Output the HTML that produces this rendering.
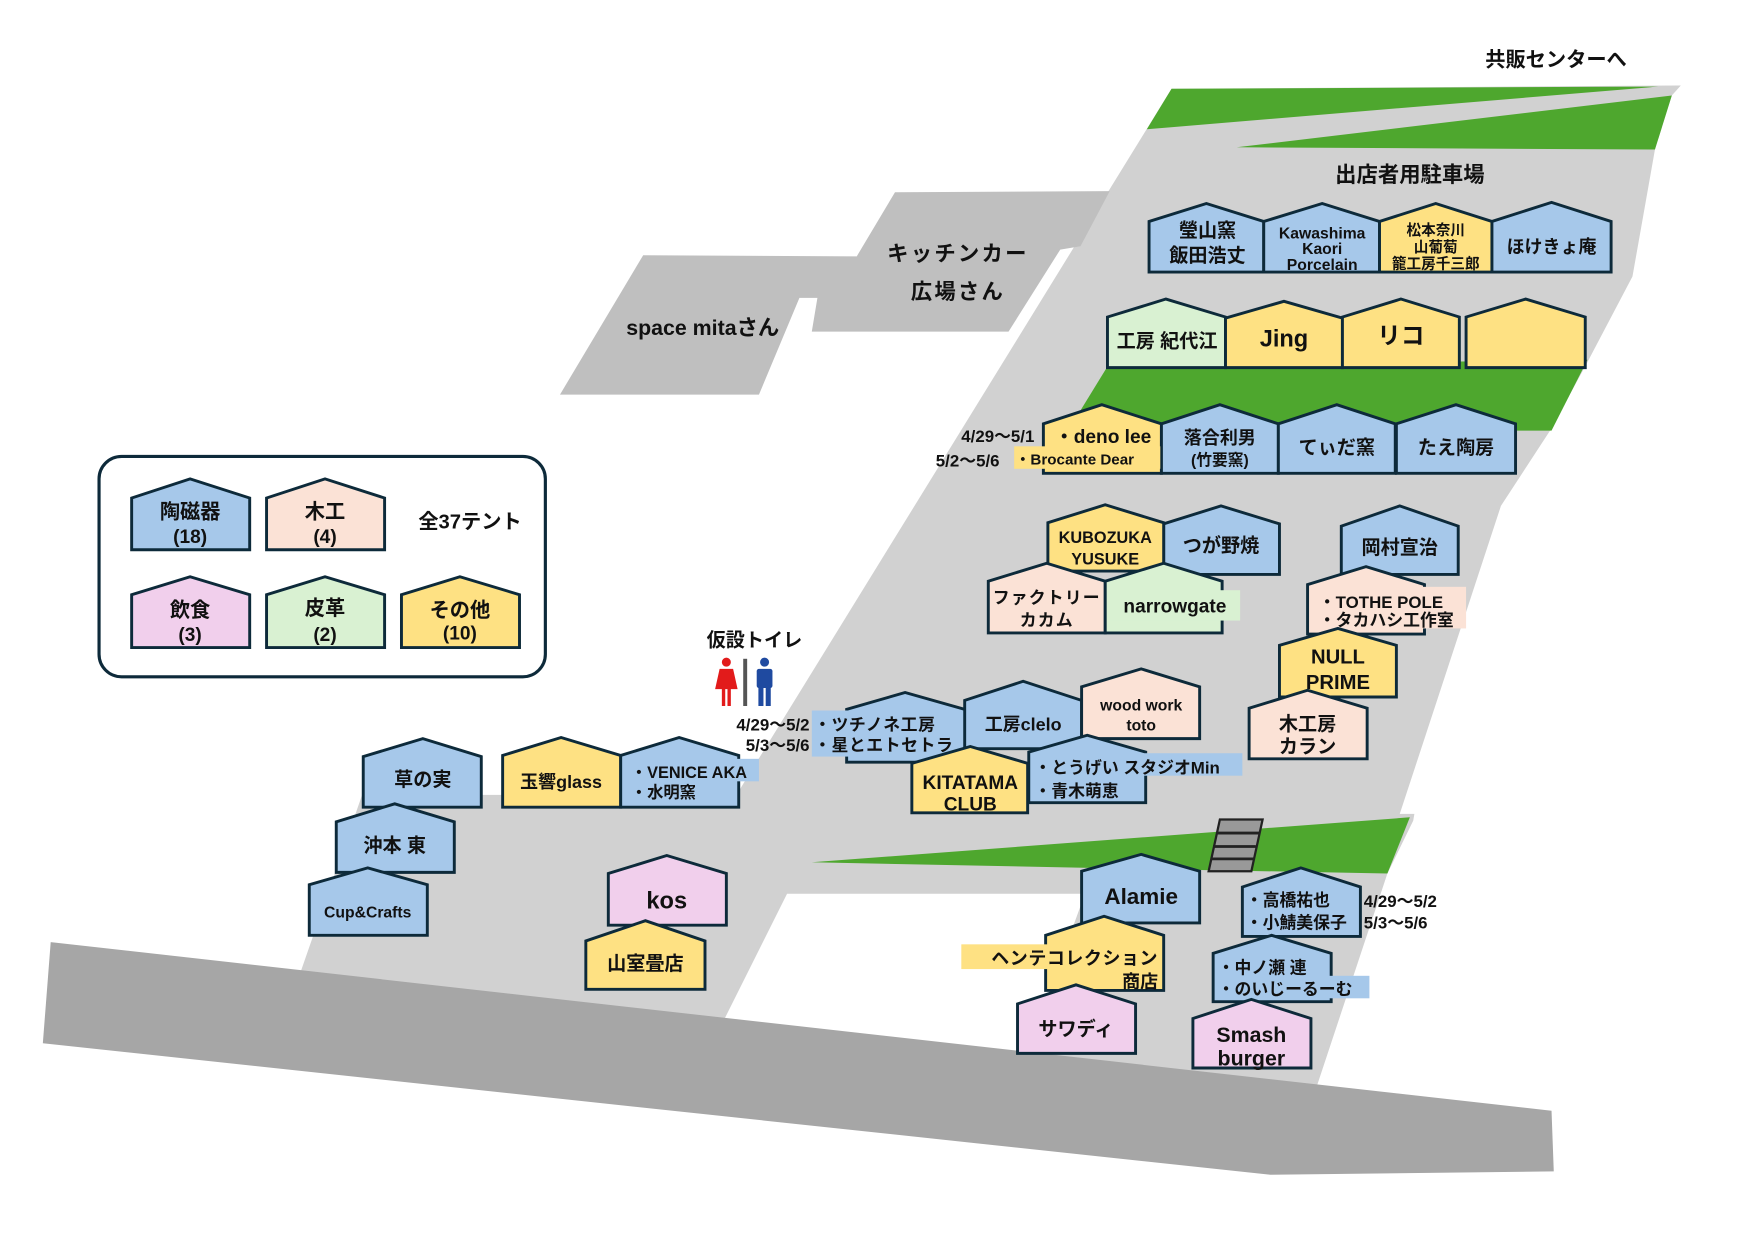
<!DOCTYPE html>
<html><head><meta charset="utf-8"><style>
html,body{margin:0;padding:0;background:#fff;}
svg{display:block}
text{font-family:"Liberation Sans","Noto Sans CJK JP",sans-serif;font-weight:bold;fill:#111;}
.t{stroke:#0d2a3a;stroke-width:2.6;stroke-linejoin:miter}
.b{fill:#a6c8ea}.y{fill:#fee183}.p{fill:#fbe2d6}.k{fill:#f1cfec}.g{fill:#d9f1d2}
</style></head><body>
<svg width="1754" height="1240" viewBox="0 0 1560 1103" xmlns="http://www.w3.org/2000/svg">
<rect width="1560" height="1103" fill="#fff"/>
<!-- ground -->
<polygon fill="#d1d1d1" points="1042,79 1495,76 1487,85 1472,133 1452,246 1412,322 1380,381 1335,450 1245,724 1258,724 1257,730 1234,777 1160,1000 255,900 322,707 655,707"/>
<polygon fill="#fff" points="700,795 965,795 905,960 640,915"/>
<polygon fill="#4ea72e" points="1042,79 1475,77 1020,115"/>
<polygon fill="#4ea72e" points="1100,131 1487,85 1472,133"/>
<polygon fill="#4ea72e" points="985,326 1412,320 1380,383 950,383"/>
<polygon fill="#4ea72e" points="722,767 1254,727 1234,777 969,772"/>
<polygon fill="#a6a6a6" points="45,838 1380,988 1382,1042 1130,1045 38,928"/>
<polygon fill="#bfbfbf" points="572,227 762,228 796,171 987,170 961,219 943,222 897,295 722,295 727,265 711,265 675,351 498,351"/>
<!-- stairs -->
<polygon fill="#999" stroke="#222" stroke-width="2" points="1085,729 1123,729 1113,775 1075,775"/>
<line x1="1082" y1="741" x2="1120" y2="741" stroke="#222" stroke-width="2.5"/>
<line x1="1079" y1="753" x2="1117" y2="753" stroke="#222" stroke-width="2.5"/>
<line x1="1077" y1="764" x2="1115" y2="764" stroke="#222" stroke-width="2.5"/>

<!-- area labels -->
<text x="1384" y="59" font-size="18" text-anchor="middle">共販センターへ</text>
<text x="1254" y="162" font-size="19" text-anchor="middle">出店者用駐車場</text>
<text x="852" y="232" font-size="19" text-anchor="middle" letter-spacing="2">キッチンカー</text>
<text x="852" y="266" font-size="19" text-anchor="middle" letter-spacing="2">広場さん</text>
<text x="625" y="298" font-size="19" text-anchor="middle">space mitaさん</text>

<!-- legend -->
<rect x="88" y="406" width="397" height="196" rx="20" fill="#fff" stroke="#0d2a3a" stroke-width="2.8"/>
<polygon class="t b" points="117,489 117,443 169,426 222,443 222,489"/>
<polygon class="t p" points="237,489 237,443 289,426 342,443 342,489"/>
<polygon class="t k" points="117,576 117,529 169,513 222,529 222,576"/>
<polygon class="t g" points="237,576 237,529 289,513 342,529 342,576"/>
<polygon class="t y" points="357,576 357,529 409,513 462,529 462,576"/>
<text x="169" y="461" font-size="18" text-anchor="middle">陶磁器</text><text x="169" y="483" font-size="17" text-anchor="middle">(18)</text>
<text x="289" y="461" font-size="18" text-anchor="middle">木工</text><text x="289" y="483" font-size="17" text-anchor="middle">(4)</text>
<text x="169" y="549" font-size="18" text-anchor="middle">飲食</text><text x="169" y="570" font-size="17" text-anchor="middle">(3)</text>
<text x="289" y="547" font-size="18" text-anchor="middle">皮革</text><text x="289" y="570" font-size="17" text-anchor="middle">(2)</text>
<text x="409" y="549" font-size="18" text-anchor="middle">その他</text><text x="409" y="569" font-size="17" text-anchor="middle">(10)</text>
<text x="418" y="470" font-size="18" text-anchor="middle">全37テント</text>

<!-- toilet -->
<text x="671" y="575" font-size="17" text-anchor="middle">仮設トイレ</text>
<g fill="#e21b1b"><circle cx="646" cy="589" r="4"/><polygon points="640,595 652,595 656,613 650,613 650,628 647,628 647,613 645,613 645,628 642,628 642,613 636,613"/></g>
<rect x="661" y="586" width="3.5" height="42" fill="#555"/>
<g fill="#1f4aa0"><circle cx="680" cy="589" r="4"/><rect x="673" y="595" width="14" height="17" rx="2"/><rect x="674.5" y="608" width="4.5" height="20"/><rect x="681" y="608" width="4.5" height="20"/></g>

<!-- row1 -->
<polygon class="t b" points="1022,242 1022,197 1073,181 1124,197 1124,242"/>
<polygon class="t b" points="1124,242 1124,197 1176,181 1227,197 1227,242"/>
<polygon class="t y" points="1227,242 1227,197 1277,181 1327,197 1327,242"/>
<polygon class="t b" points="1327,242 1327,197 1380,180 1433,197 1433,242"/>
<text x="1074" y="211" font-size="17" text-anchor="middle">瑩山窯</text><text x="1074" y="233" font-size="17" text-anchor="middle">飯田浩丈</text>
<text x="1176" y="212" font-size="14" text-anchor="middle">Kawashima</text><text x="1176" y="226" font-size="14" text-anchor="middle">Kaori</text><text x="1176" y="240" font-size="14" text-anchor="middle">Porcelain</text>
<text x="1277" y="209" font-size="13" text-anchor="middle">松本奈川</text><text x="1277" y="224" font-size="13" text-anchor="middle">山葡萄</text><text x="1277" y="239" font-size="13" text-anchor="middle">籠工房千三郎</text>
<text x="1380" y="225" font-size="16" text-anchor="middle">ほけきょ庵</text>

<!-- row2 -->
<polygon class="t g" points="985,327 985,282 1037,266 1090,282 1090,327"/>
<polygon class="t y" points="1090,327 1090,283 1142,268 1194,283 1194,327"/>
<polygon class="t y" points="1194,327 1194,282 1246,266 1298,282 1298,327"/>
<polygon class="t y" points="1304,327 1304,282 1357,266 1410,282 1410,327"/>
<text x="1038" y="309" font-size="17" text-anchor="middle">工房 紀代江</text>
<text x="1142" y="308" font-size="21" text-anchor="middle">Jing</text>
<text x="1246" y="306" font-size="21" text-anchor="middle">リコ</text>

<!-- row3 -->
<polygon class="t y" points="928,421 928,377 980,360 1033,377 1033,421"/>
<polygon class="t b" points="1033,421 1033,377 1085,360 1137,377 1137,421"/>
<polygon class="t b" points="1137,421 1137,377 1189,360 1241,377 1241,421"/>
<polygon class="t b" points="1242,421 1242,377 1295,360 1348,377 1348,421"/>
<rect x="902" y="397" width="130" height="20" fill="#fee183"/>
<text x="938" y="394" font-size="17">・deno lee</text>
<text x="903" y="413" font-size="13.5">・Brocante Dear</text>
<text x="920" y="393" font-size="15" text-anchor="end">4/29～5/1</text>
<text x="889" y="415" font-size="15" text-anchor="end">5/2～5/6</text>
<text x="1085" y="395" font-size="16" text-anchor="middle">落合利男</text><text x="1085" y="414" font-size="14" text-anchor="middle">(竹要窯)</text>
<text x="1189" y="404" font-size="17" text-anchor="middle">てぃだ窯</text>
<text x="1295" y="404" font-size="17" text-anchor="middle">たえ陶房</text>

<!-- row4 cluster -->
<polygon class="t b" points="1035,511 1035,466 1086,450 1138,466 1138,511"/>
<polygon class="t y" points="932,508 932,465 983,449 1035,465 1035,508"/>
<polygon class="t p" points="879,563 879,517 931,501 983,517 983,563"/>
<polygon class="t g" points="983,563 983,517 1035,501 1087,517 1087,563"/>
<rect x="987" y="525" width="116" height="27" fill="#d9f1d2"/>
<text x="983" y="483" font-size="14.5" text-anchor="middle">KUBOZUKA</text><text x="983" y="502" font-size="14.5" text-anchor="middle">YUSUKE</text>
<text x="1086" y="491" font-size="17" text-anchor="middle">つが野焼</text>
<text x="931" y="537" font-size="15" text-anchor="middle" letter-spacing="1">ファクトリー</text><text x="931" y="557" font-size="15" text-anchor="middle" letter-spacing="1">カカム</text>
<text x="1045" y="545" font-size="17" text-anchor="middle">narrowgate</text>

<polygon class="t b" points="1193,511 1193,468 1245,450 1297,468 1297,511"/>
<text x="1245" y="493" font-size="17" text-anchor="middle">岡村宣治</text>
<polygon class="t p" points="1163,564 1163,520 1215,504 1267,520 1267,564"/>
<rect x="1170" y="522" width="134" height="37" fill="#fbe2d6"/>
<text x="1173" y="541" font-size="15">・TOTHE POLE</text>
<text x="1173" y="557" font-size="15">・タカハシ工作室</text>
<polygon class="t y" points="1138,620 1138,574 1190,559 1242,574 1242,620"/>
<text x="1190" y="590" font-size="18" text-anchor="middle">NULL</text><text x="1190" y="613" font-size="18" text-anchor="middle">PRIME</text>
<polygon class="t p" points="1111,675 1111,630 1163,614 1216,630 1216,675"/>
<text x="1163" y="650" font-size="17" text-anchor="middle">木工房</text><text x="1163" y="670" font-size="17" text-anchor="middle">カラン</text>

<!-- lower middle cluster -->
<polygon class="t b" points="753,678 753,631 805,616 858,631 858,678"/>
<rect x="722" y="632" width="135" height="41" fill="#a6c8ea"/>
<text x="724" y="650" font-size="15" letter-spacing="0.5">・ツチノネ工房</text>
<text x="724" y="668" font-size="15" letter-spacing="0.5">・星とエトセトラ</text>
<text x="720" y="650" font-size="15" text-anchor="end">4/29～5/2</text>
<text x="720" y="668" font-size="15" text-anchor="end">5/3～5/6</text>
<polygon class="t b" points="858,666 858,623 910,606 962,623 962,666"/>
<text x="910" y="650" font-size="16" text-anchor="middle">工房clelo</text>
<polygon class="t p" points="962,657 962,611 1015,595 1067,611 1067,657"/>
<text x="1015" y="632" font-size="14" text-anchor="middle">wood work</text><text x="1015" y="650" font-size="14" text-anchor="middle">toto</text>
<polygon class="t b" points="915,714 915,669 967,654 1019,669 1019,714"/>
<rect x="918" y="670" width="187" height="20" fill="#a6c8ea"/>
<text x="920" y="688" font-size="15">・とうげい スタジオMin</text>
<text x="920" y="709" font-size="15">・青木萌恵</text>
<polygon class="t y" points="811,723 811,679 863,664 914,679 914,723"/>
<text x="863" y="702" font-size="17" text-anchor="middle">KITATAMA</text><text x="863" y="721" font-size="17" text-anchor="middle">CLUB</text>

<!-- left cluster -->
<polygon class="t b" points="323,718 323,673 376,657 428,673 428,718"/>
<text x="376" y="699" font-size="17" text-anchor="middle">草の実</text>
<polygon class="t b" points="299,776 299,731 351,715 404,731 404,776"/>
<text x="351" y="758" font-size="17" text-anchor="middle">沖本 東</text>
<polygon class="t b" points="275,832 275,787 327,772 380,787 380,832"/>
<text x="327" y="816" font-size="14" text-anchor="middle">Cup&amp;Crafts</text>
<polygon class="t y" points="447,718 447,672 499,656 552,672 552,718"/>
<text x="499" y="701" font-size="16" text-anchor="middle">玉響glass</text>
<polygon class="t b" points="552,718 552,672 604,656 657,672 657,718"/>
<rect x="558" y="675" width="117" height="20" fill="#a6c8ea"/>
<text x="561" y="692" font-size="14.5">・VENICE  AKA</text>
<text x="561" y="710" font-size="14.5">・水明窯</text>
<polygon class="t k" points="541,823 541,777 593,761 646,777 646,823"/>
<text x="593" y="808" font-size="21" text-anchor="middle">kos</text>
<polygon class="t y" points="521,880 521,837 574,819 627,837 627,880"/>
<text x="574" y="863" font-size="17" text-anchor="middle">山室畳店</text>

<!-- lower right -->
<polygon class="t b" points="962,821 962,775 1015,760 1067,775 1067,821"/>
<text x="1015" y="804" font-size="20" text-anchor="middle">Alamie</text>
<polygon class="t b" points="1105,833 1105,789 1157,772 1210,789 1210,833"/>
<text x="1108" y="806" font-size="15">・高橋祐也</text>
<text x="1108" y="826" font-size="15">・小鯖美保子</text>
<text x="1213" y="807" font-size="15">4/29～5/2</text>
<text x="1213" y="826" font-size="15">5/3～5/6</text>
<polygon class="t y" points="930,881 930,832 982,815 1035,832 1035,881"/>
<rect x="855" y="840" width="78" height="22" fill="#fee183"/>
<text x="1030" y="858" font-size="16" text-anchor="end" letter-spacing="0.5">ヘンテコレクション</text>
<text x="1030" y="879" font-size="16" text-anchor="end">商店</text>
<polygon class="t b" points="1079,891 1079,848 1131,832 1184,848 1184,891"/>
<rect x="1082" y="868" width="136" height="20" fill="#a6c8ea"/>
<text x="1083" y="866" font-size="15">・中ノ瀬 連</text>
<text x="1083" y="885" font-size="15">・のいじーるーむ</text>
<polygon class="t k" points="905,937 905,893 957,876 1010,893 1010,937"/>
<text x="957" y="921" font-size="17" text-anchor="middle">サワディ</text>
<polygon class="t k" points="1061,950 1061,906 1113,889 1166,906 1166,950"/>
<text x="1113" y="927" font-size="19" text-anchor="middle">Smash</text><text x="1113" y="948" font-size="19" text-anchor="middle">burger</text>
</svg>
</body></html>
